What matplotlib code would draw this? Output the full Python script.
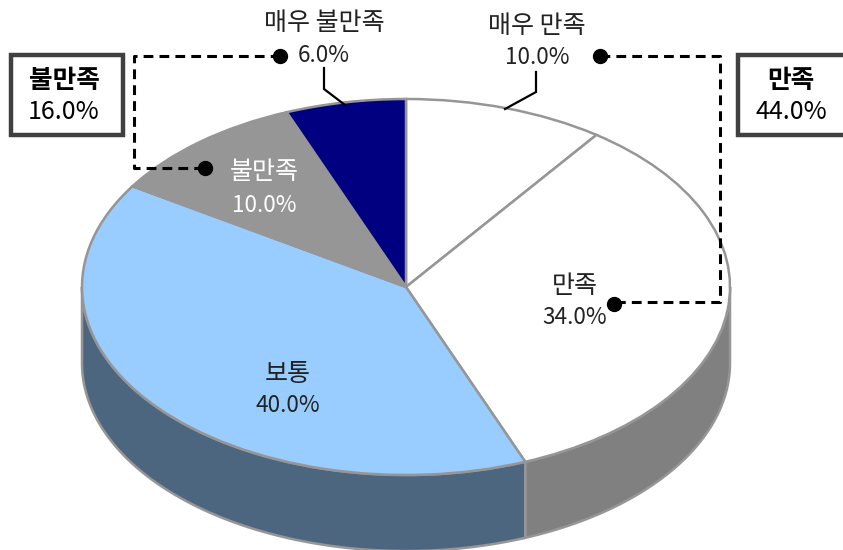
#!/usr/bin/env python3
# -*- coding: utf-8 -*-
import numpy as np
import matplotlib
matplotlib.use("Agg")
import matplotlib.pyplot as plt
from matplotlib.patches import Polygon, Rectangle

plt.rcParams["font.family"] = ["Noto Sans CJK KR", "DejaVu Sans"]

# clockwise from 12 o'clock
categories = ["매우 만족", "만족", "보통", "불만족", "매우 불만족"]
values = [10.0, 34.0, 40.0, 10.0, 6.0]
top_colors = ["#FFFFFF", "#FFFFFF", "#99CCFF", "#969696", "#000080"]
side_colors = ["#808080", "#808080", "#4D6680", "#4B4B4B", "#000040"]
group_labels = ["불만족", "만족"]
group_values = [16.0, 44.0]

W, H = 843, 550
CX, CY = 406, 287   # pie centre, px
RX, RY = 324, 188   # ellipse radii, px
DEPTH = 76 / RY     # height of the side wall, in pie radii
EDGE = "#969696"

fig = plt.figure(figsize=(W / 100, H / 100), dpi=100)
ax = fig.add_axes([0, 0, 1, 1])

# top of the pie, squashed through the axis limits
ax.pie(values, colors=top_colors, startangle=90, counterclock=False, radius=1,
       wedgeprops=dict(edgecolor=EDGE, linewidth=1.8, zorder=3), frame=True)
ax.set_aspect("auto")
ax.set_xlim(-CX / RX, (W - CX) / RX)
ax.set_ylim(-(H - CY) / RY, CY / RY)
ax.axis("off")

# side wall, only the part facing the viewer (90..270 deg clockwise from top)
edges = np.cumsum([0] + values) / sum(values) * 360
for i in range(len(values)):
    t0, t1 = max(edges[i], 90), min(edges[i + 1], 270)
    if t1 <= t0:
        continue
    t = np.radians(np.linspace(t0, t1, 120))
    x, y = np.sin(t), np.cos(t)
    pts = np.r_[np.c_[x, y], np.c_[x, y - DEPTH][::-1]]
    ax.add_patch(Polygon(pts, closed=True, facecolor=side_colors[i], edgecolor=EDGE,
                         linewidth=1.8, zorder=1))

# overlay in pixel coordinates for labels and callouts
ov = fig.add_axes([0, 0, 1, 1], facecolor="none")
ov.set_xlim(0, W)
ov.set_ylim(H, 0)
ov.axis("off")


def two_line(x, y0, y1, name, val, color="#222222", weight="normal", fs=(18, 16.2)):
    ov.text(x, y0, name, ha="center", va="center", fontsize=fs[0], color=color, weight=weight)
    ov.text(x, y1, f"{val:.1f}%", ha="center", va="center", fontsize=fs[1], color=color)


two_line(537, 26, 58, categories[0], values[0])
two_line(575, 286, 318, categories[1], values[1])
two_line(288, 374, 406, categories[2], values[2])
two_line(264, 172, 205, categories[3], values[3], color="white")
two_line(324, 23, 55, categories[4], values[4])

# leader lines
ov.plot([536, 536, 505], [72, 92, 109], color="black", lw=1.6, solid_joinstyle="miter")
ov.plot([324, 324, 345], [68, 89, 105], color="black", lw=1.6, solid_joinstyle="miter")

# dashed brackets
dash = dict(color="black", lw=2.2, ls=(0, (3.2, 2.0)), solid_joinstyle="miter")
ov.plot([280, 134, 134, 205], [56, 56, 168, 168], **dash)
ov.plot([600, 720, 720, 614], [56, 56, 302, 302], **dash)
ov.plot([280, 205, 600, 614], [56, 168, 56, 304], "o", color="black", ms=10, zorder=5)

# summary boxes
ov.add_patch(Rectangle((11, 55), 112, 80, facecolor="white", edgecolor="#404040", lw=3.2))
two_line(64, 80, 112, group_labels[0], group_values[0], color="black", weight="bold", fs=(18.5, 18))
ov.add_patch(Rectangle((738, 55), 120, 80, facecolor="white", edgecolor="#404040", lw=3.2,
                       clip_on=True))
two_line(791, 80, 112, group_labels[1], group_values[1], color="black", weight="bold", fs=(18.5, 18))

fig.savefig("out.png", dpi=100)
plt.close(fig)
